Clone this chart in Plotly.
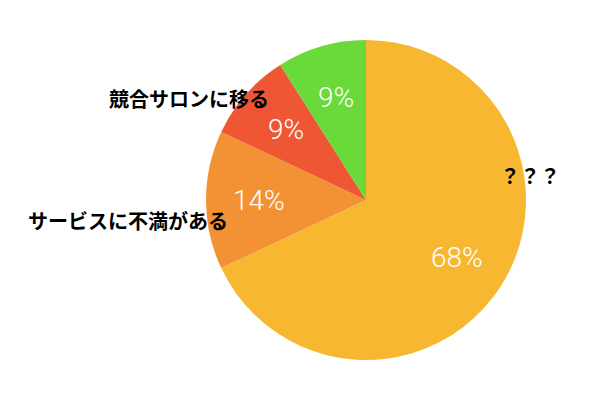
import math
import plotly.graph_objects as go

# Survey breakdown
categories = ["？？？", "サービスに不満がある", "競合サロンに移る", "その他"]
values = [68, 14, 9, 9]
colors = ["#F7B731", "#F39234", "#EE5634", "#6AD93A"]

# Outside captions (the last slice has none)
captions = ["？？？", "サービスに不満がある", "競合サロンに移る"]
caption_pos = [(0.883, 0.56), (0.213, 0.45), (0.315, 0.755)]

W, H = 600, 400
dom_x = [206 / W, 526 / W]
dom_y = [0.1, 0.9]

fig = go.Figure(
    go.Pie(
        labels=categories,
        values=values,
        sort=False,
        direction="clockwise",
        rotation=0,
        marker=dict(colors=colors, line=dict(width=0)),
        textinfo="none",
        domain=dict(x=dom_x, y=dom_y),
        showlegend=False,
        hoverinfo="skip",
    )
)

# Percentage labels at each slice's mid-angle, two thirds of the way out
cx = (dom_x[0] + dom_x[1]) / 2 * W
cy = (dom_y[0] + dom_y[1]) / 2 * H
radius = min((dom_x[1] - dom_x[0]) * W, (dom_y[1] - dom_y[0]) * H) / 2
total = sum(values)
start = 0.0
for v in values:
    mid = math.radians((start + v / 2) / total * 360)
    start += v
    px = cx + 0.67 * radius * math.sin(mid)
    py = cy + 0.67 * radius * math.cos(mid)
    fig.add_annotation(
        text=f"{round(v / total * 100)}%",
        x=px / W, y=py / H, xref="paper", yref="paper",
        xanchor="center", yanchor="middle", showarrow=False,
        font=dict(family="Roboto", size=28, color="white", weight=300),
    )

for text, (x, y) in zip(captions, caption_pos):
    fig.add_annotation(
        text=f"<b>{text}</b>",
        x=x, y=y, xref="paper", yref="paper",
        xanchor="center", yanchor="middle",
        showarrow=False,
        font=dict(family="Noto Sans CJK JP", size=20, color="#000000"),
    )

fig.update_layout(
    width=W, height=H,
    margin=dict(l=0, r=0, t=0, b=0),
    paper_bgcolor="white",
    plot_bgcolor="white",
)

fig.write_html("out.html")
